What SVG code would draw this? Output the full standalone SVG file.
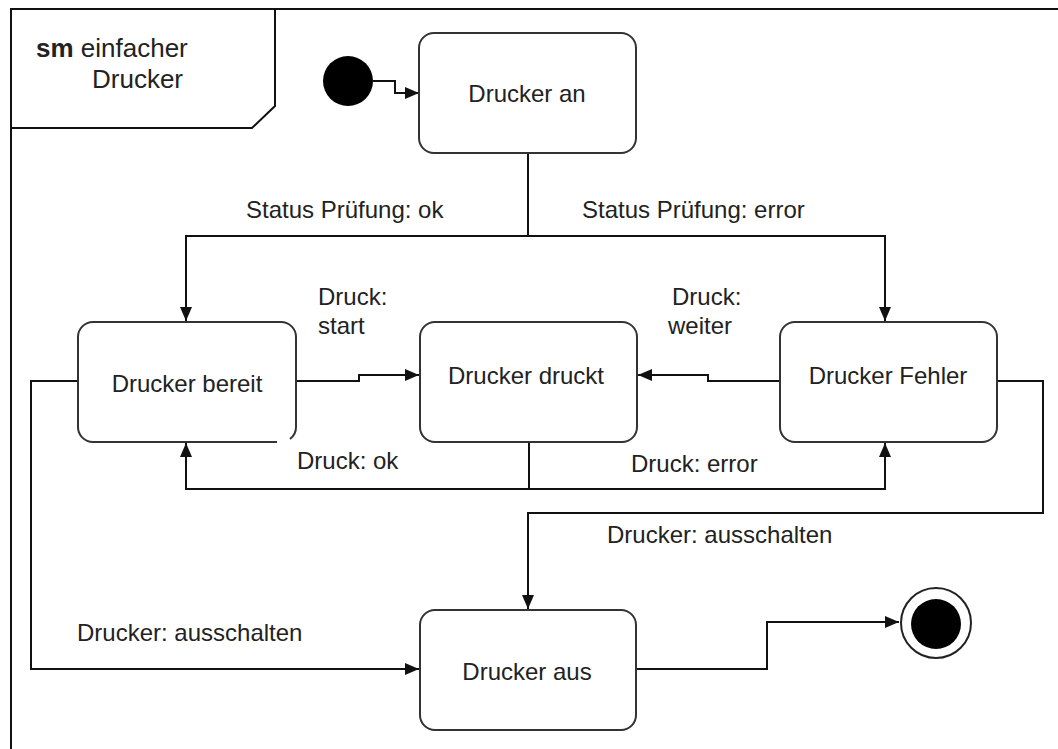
<svg xmlns="http://www.w3.org/2000/svg" width="1058" height="749" viewBox="0 0 1058 749">
<style>
.frame{fill:none;stroke:#111;stroke-width:2}
.state{fill:#fff;stroke:#333;stroke-width:2}
.edge{fill:none;stroke:#111;stroke-width:2}
.lbl{font-family:"Liberation Sans",Arial,sans-serif;font-size:24px;fill:#222}
.name{font-family:"Liberation Sans",Arial,sans-serif;font-size:24px;fill:#222;text-anchor:middle}
.title{font-family:"Liberation Sans",Arial,sans-serif;font-size:26px;fill:#222}
</style>
<defs>
<marker id="arr" viewBox="0 0 14 12" refX="14" refY="6" markerWidth="14" markerHeight="12" markerUnits="userSpaceOnUse" orient="auto">
<path d="M0,0 L14,6 L0,12 Z" fill="#111"/>
</marker>
</defs>
<rect width="1058" height="749" fill="#fff"/>
<g id="frame">
<path class="frame" d="M11,749 V9 H1058"/>
<path class="frame" d="M11,128 H252 L275,106 V9"/>
<text class="title" x="36" y="57"><tspan font-weight="bold">sm</tspan> einfacher</text>
<text class="title" x="92" y="88">Drucker</text>
</g>
<g id="connectors">
<path class="edge" d="M373,81 H395 V93 H419" marker-end="url(#arr)"/>
<path class="edge" d="M528,153 V236 H186 V321" marker-end="url(#arr)"/>
<path class="edge" d="M528,236 H885 V321" marker-end="url(#arr)"/>
<path class="edge" d="M296,381 H359 V375 H419" marker-end="url(#arr)"/>
<path class="edge" d="M780,381 H708 V375 H638" marker-end="url(#arr)"/>
<path class="edge" d="M529,442 V489 H186 V443" marker-end="url(#arr)"/>
<path class="edge" d="M529,489 H885 V443" marker-end="url(#arr)"/>
<path class="edge" d="M997,381 H1043 V513 H528 V609" marker-end="url(#arr)"/>
<path class="edge" d="M78,381 H31 V669 H419" marker-end="url(#arr)"/>
<path class="edge" d="M636,669 H767 V622 H899" marker-end="url(#arr)"/>
<text class="lbl" x="246" y="218">Status Prüfung: ok</text>
<text class="lbl" x="582" y="218">Status Prüfung: error</text>
<text class="lbl" x="318" y="305">Druck:</text>
<text class="lbl" x="318" y="334">start</text>
<text class="lbl" x="672" y="305">Druck:</text>
<text class="lbl" x="668" y="334">weiter</text>
<text class="lbl" x="297" y="469">Druck: ok</text>
<text class="lbl" x="631" y="472">Druck: error</text>
<text class="lbl" x="607" y="543">Drucker: ausschalten</text>
<text class="lbl" x="77" y="641">Drucker: ausschalten</text>
</g>
<g id="initial">
<circle cx="348" cy="81" r="25" fill="#000"/>
</g>
<g id="drucker-an">
<rect class="state" x="419" y="33" width="217" height="120" rx="15"/>
<text class="name" x="527" y="102">Drucker an</text>
</g>
<g id="drucker-bereit">
<path class="state" d="M277,442 H93 A15,15 0 0 1 78,427 V337 A15,15 0 0 1 93,322 H281 A15,15 0 0 1 296,337 V427 A15,15 0 0 1 290,439"/>
<text class="name" x="187" y="392">Drucker bereit</text>
</g>
<g id="drucker-druckt">
<rect class="state" x="420" y="322" width="217" height="120" rx="15"/>
<text class="name" x="526" y="384">Drucker druckt</text>
</g>
<g id="drucker-fehler">
<rect class="state" x="780" y="322" width="217" height="120" rx="15"/>
<text class="name" x="888" y="384">Drucker Fehler</text>
</g>
<g id="drucker-aus">
<rect class="state" x="420" y="610" width="216" height="120" rx="15"/>
<text class="name" x="527" y="680">Drucker aus</text>
</g>
<g id="final">
<circle cx="936" cy="623" r="35" fill="#fff" stroke="#222" stroke-width="2"/>
<circle cx="936" cy="624" r="25" fill="#000"/>
</g>
</svg>
